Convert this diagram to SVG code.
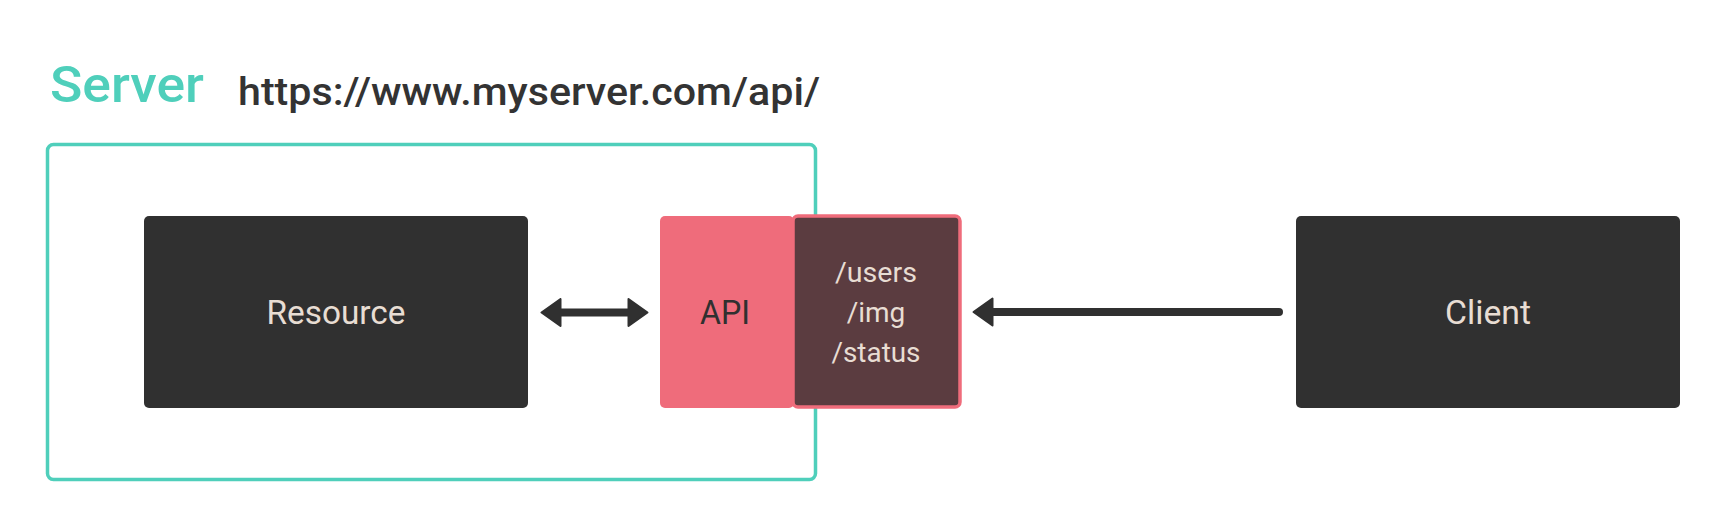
<svg xmlns="http://www.w3.org/2000/svg" width="1728" height="528" viewBox="0 0 1728 528">
  <defs>
    <style>
      .lbl { font-family: Roboto, "Liberation Sans", sans-serif; fill: #e8ddd3; text-anchor: middle; }
      .dark { fill: #303030; }
      .conn { stroke: #303030; stroke-width: 8; fill: none; }
    </style>
    <marker id="head" markerUnits="userSpaceOnUse" viewBox="0 0 22 30" markerWidth="22" markerHeight="30" refX="10" refY="15" orient="auto-start-reverse">
      <path d="M1.5,1.5 L20.5,15 L1.5,28.5 Z" fill="#303030" stroke="#303030" stroke-width="2" stroke-linejoin="round"/>
    </marker>
  </defs>
  <rect width="1728" height="528" fill="#ffffff"/>

  <g id="title">
    <text x="50" y="102" font-family="Roboto, 'Liberation Sans', sans-serif" font-size="50" font-weight="500" fill="#4fcfbb" textLength="154" lengthAdjust="spacingAndGlyphs">Server</text>
    <text x="238" y="105" font-family="Roboto, 'Liberation Sans', sans-serif" font-size="39" font-weight="500" fill="#333333" textLength="582" lengthAdjust="spacingAndGlyphs">https://www.myserver.com/api/</text>
  </g>

  <g id="server">
    <rect x="47.5" y="144.5" width="768" height="335" rx="6" fill="none" stroke="#4fcfbb" stroke-width="3.5"/>
  </g>

  <g id="resource">
    <rect class="dark" x="144" y="216" width="384" height="192" rx="5"/>
    <text class="lbl" x="336" y="324" font-size="33" textLength="139" lengthAdjust="spacingAndGlyphs">Resource</text>
  </g>

  <g id="api">
    <rect x="660" y="216" width="134" height="192" rx="5" fill="#ef6c7b"/>
    <text x="725" y="324" font-family="Roboto, 'Liberation Sans', sans-serif" font-size="33" fill="#303030" text-anchor="middle" textLength="50" lengthAdjust="spacingAndGlyphs">API</text>
  </g>

  <g id="endpoints">
    <rect x="793" y="216" width="167" height="191" rx="5" fill="#5b3c40" stroke="#ef6c7b" stroke-width="3.5"/>
    <text class="lbl" x="876" y="282" font-size="28" textLength="82" lengthAdjust="spacingAndGlyphs">/users</text>
    <text class="lbl" x="876" y="322" font-size="28">/img</text>
    <text class="lbl" x="876" y="362" font-size="28" textLength="89" lengthAdjust="spacingAndGlyphs">/status</text>
  </g>

  <g id="client">
    <rect class="dark" x="1296" y="216" width="384" height="192" rx="5"/>
    <text class="lbl" x="1488" y="324" font-size="33" textLength="86" lengthAdjust="spacingAndGlyphs">Client</text>
  </g>

  <g id="connectors">
    <line class="conn" x1="552" y1="312.5" x2="637" y2="312.5" marker-start="url(#head)" marker-end="url(#head)"/>
    <line class="conn" x1="984" y1="312" x2="1279" y2="312" stroke-linecap="round" marker-start="url(#head)"/>
  </g>
</svg>
